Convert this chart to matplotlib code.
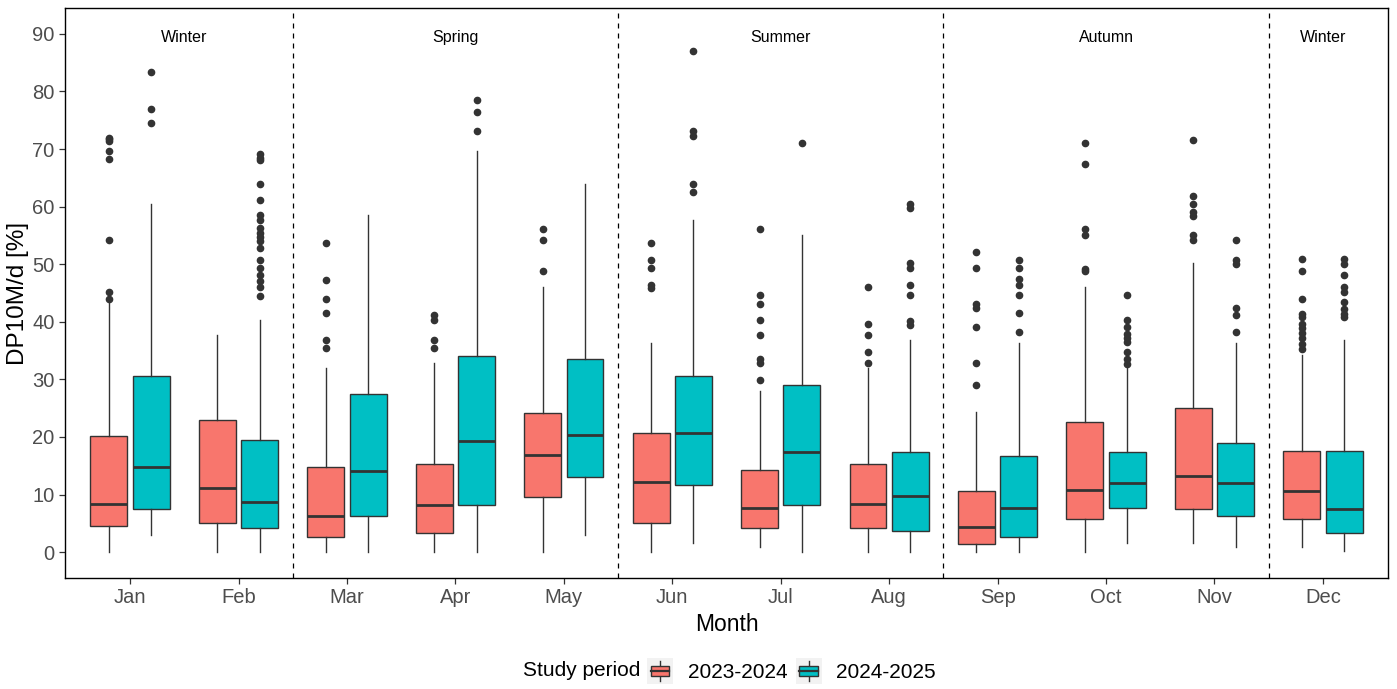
import matplotlib
matplotlib.use('Agg')
import matplotlib.pyplot as plt
from matplotlib.patches import Rectangle
from matplotlib.lines import Line2D
from matplotlib.legend_handler import HandlerBase

plt.rcParams['font.family'] = ['Liberation Sans', 'DejaVu Sans']

months = ['Jan', 'Feb', 'Mar', 'Apr', 'May', 'Jun', 'Jul', 'Aug', 'Sep', 'Oct', 'Nov', 'Dec']
periods = ['2023-2024', '2024-2025']
colors = ['#F8766D', '#00BFC4']

# box stats per month: (whislo, q1, med, q3, whishi)
stats_2324 = [
    (0.0, 4.5, 8.3, 20.2, 43.2),
    (0.0, 5.0, 11.2, 23.0, 37.7),
    (0.0, 2.7, 6.3, 14.8, 31.9),
    (0.0, 3.4, 8.2, 15.3, 32.8),
    (0.0, 9.6, 16.8, 24.2, 46.0),
    (0.0, 5.0, 12.2, 20.6, 36.3),
    (0.9, 4.2, 7.7, 14.3, 27.9),
    (0.0, 4.2, 8.3, 15.3, 32.0),
    (0.0, 1.4, 4.3, 10.6, 24.3),
    (0.0, 5.7, 10.8, 22.6, 46.0),
    (1.5, 7.5, 13.2, 25.0, 50.2),
    (0.9, 5.7, 10.6, 17.6, 34.3),
]
stats_2425 = [
    (2.9, 7.4, 14.7, 30.5, 60.5),
    (0.0, 4.2, 8.7, 19.4, 40.3),
    (0.0, 6.2, 14.0, 27.5, 58.5),
    (0.0, 8.2, 19.3, 34.1, 69.6),
    (2.9, 13.1, 20.3, 33.5, 63.9),
    (1.5, 11.6, 20.6, 30.5, 57.6),
    (0.0, 8.2, 17.4, 29.0, 55.1),
    (0.0, 3.7, 9.7, 17.3, 36.8),
    (0.0, 2.7, 7.7, 16.7, 36.3),
    (1.5, 7.7, 12.0, 17.3, 32.0),
    (0.9, 6.2, 12.0, 19.0, 36.3),
    (0.2, 3.4, 7.4, 17.5, 36.9),
]

outliers_2324 = [
    [72.0, 71.7, 71.4, 69.6, 68.2, 54.2, 45.1, 43.9],
    [],
    [53.6, 47.3, 43.9, 41.6, 36.8, 35.4],
    [41.1, 40.3, 36.8, 35.4],
    [56.2, 54.2, 48.8],
    [53.6, 50.8, 49.4, 46.4, 45.8],
    [56.2, 44.6, 43.1, 40.3, 37.7, 33.5, 32.8, 29.9],
    [46.0, 39.6, 37.7, 34.8, 32.8],
    [52.2, 49.4, 43.1, 42.4, 39.1, 32.8, 29.1],
    [71.1, 67.4, 56.2, 55.0, 49.2, 48.8],
    [71.6, 61.9, 60.4, 59.1, 58.4, 55.1, 54.2],
    [50.9, 48.8, 44.0, 41.3, 40.8, 39.7, 38.9, 38.1, 37.1, 36.2, 35.3],
]
outliers_2425 = [
    [83.4, 77.0, 74.5],
    [69.1, 68.5, 68.1, 63.9, 61.1, 58.5, 57.6, 56.3, 55.5, 54.8, 54.1, 52.8, 50.8, 49.4, 48.1, 47.1, 46.0, 44.4],
    [],
    [78.5, 76.5, 73.1],
    [],
    [87.0, 73.2, 72.3, 63.9, 62.5],
    [71.1],
    [60.4, 59.7, 50.2, 49.4, 46.4, 44.6, 40.1, 39.5],
    [50.8, 49.4, 47.4, 46.4, 44.6, 41.6, 38.3],
    [44.6, 40.3, 39.1, 37.8, 37.1, 36.5, 34.8, 33.5, 32.7],
    [54.2, 50.8, 50.1, 42.4, 41.1, 38.3],
    [50.9, 50.1, 48.1, 46.0, 45.1, 43.4, 42.3, 41.3, 40.8],
]

seasons = ['Winter', 'Spring', 'Summer', 'Autumn', 'Winter']
season_x = [1.5, 4, 7, 10, 12]
season_breaks = [2.5, 5.5, 8.5, 11.5]


def to_bxp(stats, outs):
    res = []
    for (lo, q1, med, q3, hi), fl in zip(stats, outs):
        res.append(dict(whislo=lo, q1=q1, med=med, q3=q3, whishi=hi, fliers=fl))
    return res


fig = plt.figure(figsize=(13.97, 6.89), dpi=100)
ax = fig.add_axes([65/1397, 1-578/689, (1388-65)/1397, (578-8)/689])

dark = '#333333'
offset = 0.195
for k, (st, outs) in enumerate([(stats_2324, outliers_2324), (stats_2425, outliers_2425)]):
    pos = [i + 1 + (offset if k else -offset) for i in range(len(months))]
    ax.bxp(to_bxp(st, outs), positions=pos, widths=0.34, patch_artist=True,
           showcaps=False,
           boxprops=dict(facecolor=colors[k], edgecolor=dark, linewidth=1.0),
           whiskerprops=dict(color=dark, linewidth=1.0),
           medianprops=dict(color=dark, linewidth=2.0, solid_capstyle='butt'),
           flierprops=dict(marker='o', markerfacecolor=dark, markeredgecolor=dark,
                           markersize=4.5, linestyle='none'))

for xb in season_breaks:
    ax.axvline(xb, color='black', linestyle=(0, (4, 4)), linewidth=0.9)

for name, xs in zip(seasons, season_x):
    ax.text(xs, 89.4, name, ha='center', va='center', fontsize=11.5, color='black')

ax.set_xlim(0.4, 12.6)
ax.set_ylim(-4.5, 94.5)
ax.set_xticks(range(1, 13))
ax.set_xticklabels(months)
ax.set_yticks(range(0, 91, 10))
ax.tick_params(axis='both', colors=dark, labelcolor='#4D4D4D', labelsize=14.5, length=4, width=0.9)
for s in ax.spines.values():
    s.set_color('black')
    s.set_linewidth(1.0)
ax.set_xlabel('Month', fontsize=16.5, labelpad=4)
ax.set_ylabel('DP10M/d [%]', fontsize=17.5, labelpad=2)


class BoxKey(HandlerBase):
    def create_artists(self, legend, orig_handle, xd, yd, w, h, fontsize, trans):
        x0, y0 = -xd, -yd
        bg = Rectangle((x0, y0), w, h, facecolor='#F2F2F2', edgecolor='none', transform=trans)
        cx = x0 + w / 2
        wl = Line2D([cx, cx], [y0 + 0.1 * h, y0 + 0.9 * h], color=dark, lw=1.0, transform=trans)
        box = Rectangle((x0 + 0.14 * w, y0 + 0.29 * h), 0.72 * w, 0.42 * h,
                        facecolor=orig_handle.get_facecolor(), edgecolor=dark, lw=1.0, transform=trans)
        med = Line2D([x0 + 0.14 * w, x0 + 0.86 * w], [y0 + h / 2] * 2, color=dark, lw=1.6, transform=trans)
        return [bg, wl, box, med]


handles = [Rectangle((0, 0), 1, 1, facecolor=c) for c in colors]
fig.text(523/1397, 1-671/689, 'Study period', fontsize=15, ha='left', va='center')
fig.legend(handles, periods, handler_map={Rectangle: BoxKey()}, ncol=2, frameon=False,
           loc='center left', bbox_to_anchor=(647/1397, 1-671/689), borderpad=0, borderaxespad=0,
           fontsize=15, handlelength=1.25, handleheight=1.54, handletextpad=0.7, columnspacing=0.4)

fig.savefig('out.png', dpi=100)
